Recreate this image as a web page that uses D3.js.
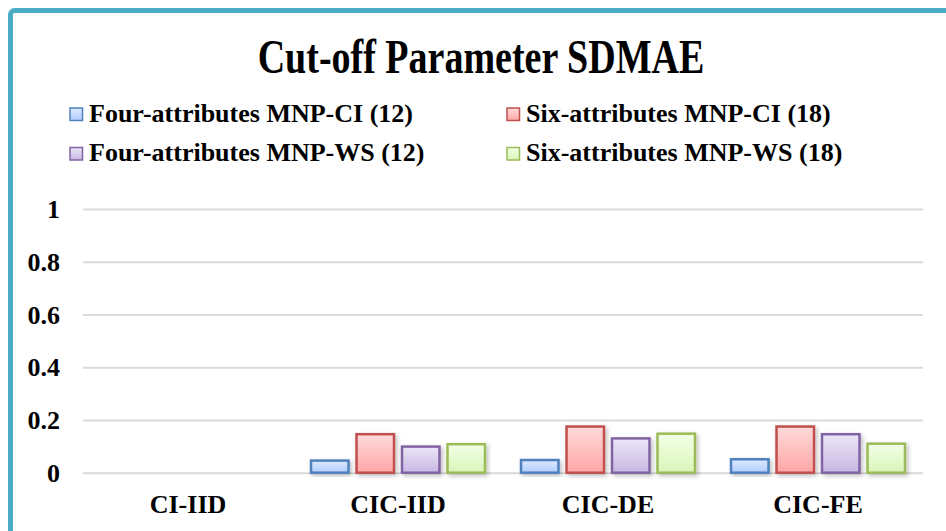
<!DOCTYPE html>
<html>
<head>
<meta charset="utf-8">
<script src="https://cdn.jsdelivr.net/npm/d3@7"></script>
<style>
    body { margin: 0; background: #fff; }
    text { font-family: "Liberation Serif", "Times New Roman", serif; font-weight: bold; fill: #000; }
</style>
</head>
<body>
<div id="chart"></div>
<script>
// Chart data
const categories = ["CI-IID", "CIC-IID", "CIC-DE", "CIC-FE"];
const seriesNames = [
    "Four-attributes MNP-CI (12)",
    "Six-attributes MNP-CI (18)",
    "Four-attributes MNP-WS (12)",
    "Six-attributes MNP-WS (18)"
];
const fourAttrCI = [0, 0.046, 0.048, 0.051];
const sixAttrCI = [0, 0.146, 0.175, 0.175];
const fourAttrWS = [0, 0.099, 0.130, 0.146];
const sixAttrWS = [0, 0.108, 0.148, 0.110];
const yTicks = [0, 0.2, 0.4, 0.6, 0.8, 1];

const width = 946;
const height = 531;
const margin = {top: 209, right: 23, bottom: 58, left: 83};
const serif = "'Liberation Serif', 'Times New Roman', serif";

// stroke colour + gradient stops (top, bottom) for each series
const colors = [
    {stroke: "#4f81bd", top: "#dde9ff", bottom: "#b2cdfd"},
    {stroke: "#c0504d", top: "#ffdada", bottom: "#ffa6a6"},
    {stroke: "#8064a2", top: "#ece6f7", bottom: "#c8b7e3"},
    {stroke: "#9bbb59", top: "#f3ffe6", bottom: "#d9f5b9"}
];

const allSeries = [fourAttrCI, sixAttrCI, fourAttrWS, sixAttrWS];

let svg = d3.select("#chart")
    .append("svg")
    .attr("width", width)
    .attr("height", height);

let defs = svg.append("defs");

colors.forEach(function (c, i) {
    let grad = defs.append("linearGradient")
        .attr("id", `grad${i}`)
        .attr("x1", 0).attr("y1", 0)
        .attr("x2", 0).attr("y2", 1);
    grad.append("stop").attr("offset", "0%").attr("stop-color", c.top);
    grad.append("stop").attr("offset", "100%").attr("stop-color", c.bottom);
});

// soft shadow under the bars
defs.append("filter")
    .attr("id", "shadow")
    .attr("x", "-20%").attr("y", "-20%")
    .attr("width", "150%").attr("height", "150%")
    .append("feDropShadow")
    .attr("dx", 2).attr("dy", 2)
    .attr("stdDeviation", 2)
    .attr("flood-color", "#000")
    .attr("flood-opacity", 0.25);

// Outer frame (only top and left edges are inside the picture)
svg.append("rect")
    .attr("x", 10.5)
    .attr("y", 10.5)
    .attr("width", 960)
    .attr("height", 560)
    .attr("rx", 4)
    .style("fill", "#fff")
    .style("stroke", "#4bacc6")
    .style("stroke-width", 5);

// Scales
let x = d3.scaleBand()
    .domain(categories)
    .range([margin.left, width - margin.right])
    .padding(0);

let xSub = d3.scaleBand()
    .domain(d3.range(allSeries.length))
    .range([0, x.bandwidth()])
    .paddingInner(0.176)
    .paddingOuter(0.396);

let y = d3.scaleLinear()
    .domain([0, 1])
    .range([height - margin.bottom - 0.3, margin.top]);

// Y axis with gridlines
let yAxis = svg.append("g")
    .attr("transform", `translate(${margin.left}, 0)`)
    .call(d3.axisLeft(y)
        .tickValues(yTicks)
        .tickFormat(d3.format(""))
        .tickSize(-(width - margin.left - margin.right))
        .tickPadding(23));

yAxis.select(".domain").remove();
yAxis.selectAll(".tick line")
    .style("stroke", "#d9d9d9")
    .style("stroke-width", 2);
yAxis.selectAll(".tick text")
    .attr("dy", "0.33em")
    .style("font-size", "26px")
    .style("font-family", serif)
    .style("font-weight", "bold");

// X axis labels
let xAxis = svg.append("g")
    .attr("transform", `translate(0, ${y(0)})`)
    .call(d3.axisBottom(x).tickSize(0).tickPadding(21.5));

xAxis.select(".domain").remove();
xAxis.selectAll(".tick text")
    .style("font-size", "26px")
    .style("font-family", serif)
    .style("font-weight", "bold");

// Bars
let groups = svg.selectAll(".group")
    .data(categories)
    .enter()
    .append("g")
    .attr("class", "group")
    .attr("transform", function (d) {
        return `translate(${x(d)}, 0)`;
    });

groups.selectAll("rect")
    .data(function (d, ci) {
        return allSeries.map(function (s, si) {
            return {series: si, value: s[ci]};
        }).filter(function (b) {
            return b.value > 0;
        });
    })
    .enter()
    .append("rect")
    .attr("x", function (d) { return xSub(d.series); })
    .attr("y", function (d) { return y(d.value); })
    .attr("width", xSub.bandwidth())
    .attr("height", function (d) { return y(0) - y(d.value); })
    .attr("filter", "url(#shadow)")
    .style("fill", function (d) { return `url(#grad${d.series})`; })
    .style("stroke", function (d) { return colors[d.series].stroke; })
    .style("stroke-width", 2.5);

// Title (the reference glyphs are a bit stretched vertically)
svg.append("text")
    .attr("transform", "translate(481, 73) scale(1, 1.3)")
    .style("text-anchor", "middle")
    .style("font-family", serif)
    .style("font-size", "38px")
    .text("Cut-off Parameter SDMAE");

// Legend, two columns and two rows
const legendX = [69, 506];
const legendY = [107, 146.5];
const legendPos = [[0, 0], [1, 0], [0, 1], [1, 1]];

let legend = svg.selectAll(".legend")
    .data(seriesNames)
    .enter()
    .append("g")
    .attr("class", "legend")
    .attr("transform", function (d, i) {
        return `translate(${legendX[legendPos[i][0]]}, ${legendY[legendPos[i][1]]})`;
    });

legend.append("rect")
    .attr("x", 1)
    .attr("y", 1)
    .attr("width", 12.5)
    .attr("height", 12.5)
    .style("fill", function (d, i) { return `url(#grad${i})`; })
    .style("stroke", function (d, i) { return colors[i].stroke; })
    .style("stroke-width", 1.5);

legend.append("text")
    .attr("x", 20)
    .attr("y", 14.5)
    .style("font-family", serif)
    .style("font-size", "26px")
    .text(function (d) { return d; });
</script>
</body>
</html>
